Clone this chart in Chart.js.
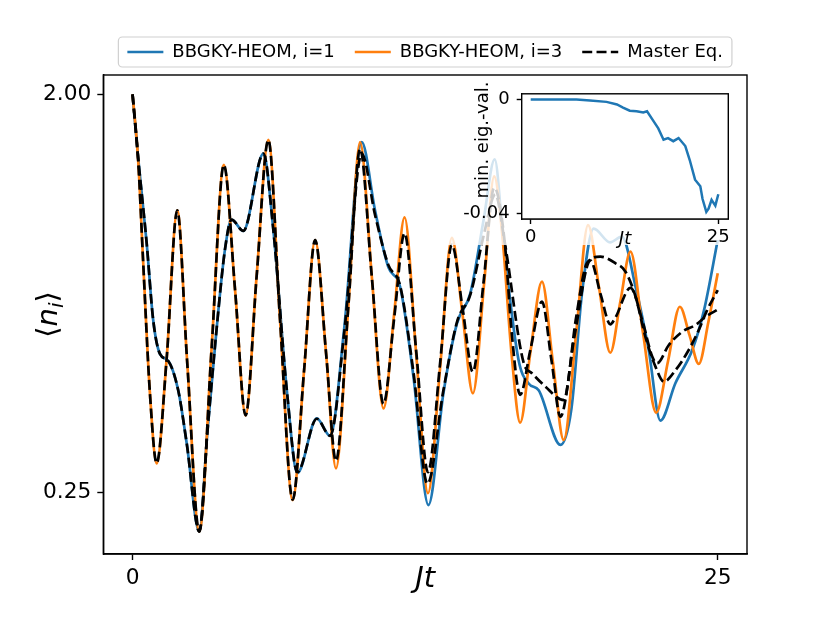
<!DOCTYPE html>
<html lang="en">
<head>
    <meta charset="UTF-8">
    <title>BBGKY-HEOM vs Master Eq.</title>
    <script src="https://cdn.jsdelivr.net/npm/chart.js"></script>
    <style>
        body { margin: 0; background: #fff; }
        #wrap { position: relative; width: 830px; height: 623px; }
        #wrap canvas { display: block; }
        /* inset sits on a half transparent white patch, like the reference */
        #inset { position: absolute; left: 440px; top: 76px; width: 302px; height: 169px; background: rgba(255, 255, 255, 0.8); }
    </style>
</head>
<body>
<div id="wrap">
    <canvas id="mainChart" width="830" height="623"></canvas>
    <div id="inset"><canvas id="insetChart" width="302" height="176"></canvas></div>
</div>

<script>
    // <n_i>, time in units of 1/J
    const tBlue = [0, 0.24, 0.6, 0.88, 1.17, 1.52, 1.95, 2.31, 2.85, 3.2, 3.6, 3.95, 4.23, 4.73, 5.59, 6.0, 6.6, 7.04, 7.87, 8.44,
        9.05, 9.79, 10.36, 10.93, 11.43, 12.0, 12.64, 13.28, 13.86, 14.43, 15.0, 15.47, 15.85, 16.49, 16.92, 17.35, 18.28, 18.75,
        19.2, 19.7, 20.4, 20.9, 21.5, 22.05, 22.55, 23.19, 23.91, 24.41, 25.0];
    const nBlue = [2.0, 1.72, 1.35, 1.01, 0.86, 0.83, 0.70, 0.47, 0.08, 0.52, 0.98, 1.32, 1.45, 1.40, 1.74, 1.42, 0.69, 0.336, 0.577, 0.50,
        0.98, 1.79, 1.49, 1.24, 1.155, 0.76, 0.196, 0.687, 0.994, 1.126, 1.45, 1.714, 1.346, 0.833, 0.73, 0.70, 0.46, 0.62,
        1.126, 1.41, 1.35, 1.375, 1.15, 0.877, 0.567, 0.731, 0.877, 1.05, 1.36];

    const tOrange = [0, 0.24, 0.45, 0.74, 1.03, 1.45, 1.91, 2.33, 2.85, 3.38, 3.9, 4.38, 4.83, 5.3, 5.8, 6.3, 6.84, 7.33, 7.8, 8.27,
        8.69, 9.22, 9.72, 10.22, 10.72, 11.18, 11.62, 12.12, 12.62, 13.14, 13.64, 14.1, 14.54, 15.02, 15.45, 15.78, 16.2, 16.56,
        17.0, 17.49, 17.95, 18.42, 18.95, 19.46, 19.93, 20.41, 20.84, 21.27, 21.81, 22.37, 22.88, 23.38, 23.8, 24.19, 24.6, 25.0];
    const nOrange = [2.0, 1.71, 1.27, 0.69, 0.379, 0.83, 1.49, 0.83, 0.08, 0.89, 1.69, 1.14, 0.59, 1.2, 1.80, 1.01, 0.218, 0.79, 1.36, 0.86,
        0.357, 1.07, 1.79, 1.2, 0.62, 1.04, 1.46, 0.855, 0.248, 0.80, 1.37, 1.03, 0.687, 1.17, 1.64, 1.40, 0.85, 0.558,
        0.87, 1.177, 0.83, 0.482, 0.95, 1.426, 1.15, 0.865, 1.09, 1.309, 0.95, 0.602, 0.83, 1.067, 0.94, 0.816, 1.0, 1.214];

    // master equation, site 1 and site 3
    const tMe1 = [0, 0.24, 0.6, 0.88, 1.17, 1.52, 1.95, 2.31, 2.85, 3.2, 3.6, 3.95, 4.23, 4.73, 5.59, 6.0, 6.6, 7.04, 7.87, 8.44,
        9.05, 9.79, 10.36, 10.93, 11.43, 12.0, 12.6, 13.28, 13.86, 14.43, 15.0, 15.5, 15.9, 16.71, 17.06, 17.6, 18.42, 18.95,
        19.42, 19.99, 20.63, 21.06, 21.49, 21.91, 22.34, 22.70, 23.2, 23.76, 24.19, 24.55, 25.0];
    const nMe1 = [2.0, 1.72, 1.35, 1.01, 0.86, 0.83, 0.70, 0.47, 0.08, 0.52, 0.98, 1.32, 1.45, 1.40, 1.74, 1.42, 0.69, 0.34, 0.575, 0.50,
        0.96, 1.74, 1.47, 1.25, 1.16, 0.78, 0.29, 0.70, 1.0, 1.12, 1.38, 1.56, 1.35, 0.82, 0.775, 0.72, 0.657, 1.02,
        1.26, 1.287, 1.258, 1.221, 1.111, 0.935, 0.804, 0.738, 0.789, 0.877, 0.965, 1.053, 1.14];

    const tMe3 = [0, 0.24, 0.45, 0.74, 1.03, 1.45, 1.91, 2.33, 2.85, 3.38, 3.9, 4.38, 4.83, 5.3, 5.8, 6.3, 6.84, 7.33, 7.8, 8.27,
        8.69, 9.22, 9.72, 10.22, 10.72, 11.18, 11.62, 12.12, 12.62, 13.14, 13.64, 14.1, 14.54, 15.0, 15.45, 15.9, 16.2, 16.56,
        17.0, 17.49, 17.9, 18.28, 18.9, 19.56, 20.0, 20.41, 20.63, 21.27, 21.77, 22.2, 22.41, 22.91, 23.48, 24.05, 24.48, 25.0];
    const nMe3 = [2.0, 1.71, 1.27, 0.69, 0.38, 0.83, 1.49, 0.83, 0.08, 0.89, 1.69, 1.14, 0.59, 1.2, 1.80, 1.01, 0.22, 0.79, 1.36, 0.86,
        0.39, 1.07, 1.76, 1.2, 0.64, 1.02, 1.39, 0.87, 0.34, 0.82, 1.34, 1.06, 0.78, 1.18, 1.59, 1.35, 0.95, 0.68,
        0.88, 1.09, 0.83, 0.584, 0.95, 1.27, 1.12, 0.99, 1.02, 1.15, 1.009, 0.848, 0.819, 0.899, 0.957, 0.987, 1.023, 1.055];

    // inset: minimum eigenvalue
    const tEig = [0, 3, 6.1, 7.9, 10.1, 11.5, 12.3, 13.2, 14.1, 15.0, 15.5, 16.3, 17.0, 17.7, 18.3, 19.0, 19.7, 20.6, 21.2, 21.9,
        22.6, 22.9, 23.4, 23.7, 24.1, 24.6, 25.0];
    const minEig = [0, 0, 0, -0.0003, -0.0008, -0.0017, -0.0028, -0.0039, -0.0041, -0.0045, -0.0041, -0.0073, -0.0101, -0.0141,
        -0.0135, -0.0146, -0.0135, -0.0163, -0.0213, -0.0281, -0.0304, -0.0349, -0.0394, -0.0383, -0.0352, -0.0372, -0.0332];

    const xTicks = [0, 25];
    const yTicks = [0.25, 2.0];
    const insetYTicks = [0, -0.04];

    const FONT = 'DejaVu Sans';
    const pts = (ts, vs) => ts.map((t, i) => ({ x: t, y: vs[i] }));

    Chart.defaults.color = '#000';
    Chart.defaults.font.family = FONT;

    const axisGrid = { drawOnChartArea: false, drawTicks: true, tickLength: 6, tickColor: '#000', tickWidth: 1.4 };
    const axisBorder = { display: true, color: '#000', width: 1.4 };

    function lineSet(label, data, color, order, dash) {
        return {
            label: label, data: data, borderColor: color, backgroundColor: color,
            borderWidth: 2.7, borderDash: dash || [], pointRadius: 0,
            cubicInterpolationMode: 'monotone', order: order
        };
    }

    // spines, legend frame, axis labels with math-like styling
    const mainDecor = {
        id: 'mainDecor',
        afterDatasetsDraw(chart) {
            const { ctx, chartArea: a } = chart;
            ctx.save();
            ctx.strokeStyle = '#000';
            ctx.lineWidth = 1.4;
            ctx.strokeRect(a.left, a.top, a.right - a.left, a.bottom - a.top);
            ctx.restore();
        },
        afterDraw(chart) {
            const { ctx, chartArea: a, legend } = chart;
            const boxes = legend.legendHitBoxes || [];
            ctx.save();
            if (boxes.length) {
                const l = Math.min(...boxes.map(b => b.left)) - 9;
                const r = Math.max(...boxes.map(b => b.left + b.width)) + 9;
                const cy = boxes[0].top + boxes[0].height / 2;
                ctx.strokeStyle = '#d0d0d0';
                ctx.lineWidth = 1.2;
                ctx.beginPath();
                if (ctx.roundRect) ctx.roundRect(l, cy - 15, r - l, 30, 4);
                else ctx.rect(l, cy - 15, r - l, 30);
                ctx.stroke();
            }

            ctx.fillStyle = '#000';
            ctx.textBaseline = 'alphabetic';
            ctx.textAlign = 'center';
            ctx.font = 'italic 29px "' + FONT + '"';
            ctx.fillText('Jt', (a.left + a.right) / 2, 587);

            // <n_i> rotated
            ctx.translate(57, (a.top + a.bottom) / 2);
            ctx.rotate(-Math.PI / 2);
            ctx.textAlign = 'left';
            const parts = [
                { s: '\u27E8', f: '29px "' + FONT + '"', dy: 0 },
                { s: 'n', f: 'italic 29px "' + FONT + '"', dy: 0 },
                { s: 'i', f: 'italic 20px "' + FONT + '"', dy: 6 },
                { s: '\u27E9', f: '29px "' + FONT + '"', dy: 0 }
            ];
            let total = 0;
            parts.forEach(p => { ctx.font = p.f; p.w = ctx.measureText(p.s).width; total += p.w; });
            let x = -total / 2;
            parts.forEach(p => { ctx.font = p.f; ctx.fillText(p.s, x, p.dy); x += p.w; });
            ctx.restore();
        }
    };

    new Chart(document.getElementById('mainChart'), {
        type: 'line',
        data: {
            datasets: [
                lineSet('BBGKY-HEOM, i=1', pts(tBlue, nBlue), '#1f77b4', 4),
                lineSet('BBGKY-HEOM, i=3', pts(tOrange, nOrange), '#ff7f0e', 3),
                lineSet('Master Eq.', pts(tMe1, nMe1), '#000000', 2, [10, 4.3]),
                lineSet('Master Eq. i=3', pts(tMe3, nMe3), '#000000', 1, [10, 4.3])
            ]
        },
        options: {
            responsive: false,
            animation: false,
            events: [],
            layout: { padding: { top: 23, right: 83, bottom: 0, left: 0 } },
            plugins: {
                tooltip: { enabled: false },
                legend: {
                    position: 'top',
                    fullSize: false,
                    labels: {
                        usePointStyle: true,
                        pointStyle: 'line',
                        pointStyleWidth: 36,
                        boxHeight: 18,
                        padding: 20,
                        color: '#000',
                        font: { family: FONT, size: 18 },
                        generateLabels: chart => Chart.defaults.plugins.legend.labels.generateLabels(chart).map(item => {
                            const ds = chart.data.datasets[item.datasetIndex];
                            item.lineDash = ds.borderDash;
                            item.lineWidth = ds.borderWidth;
                            item.strokeStyle = ds.borderColor;
                            return item;
                        }),
                        filter: item => item.datasetIndex !== 3,
                        sort: (a, b) => a.datasetIndex - b.datasetIndex
                    }
                }
            },
            scales: {
                x: {
                    type: 'linear', min: -1.25, max: 26.25,
                    afterBuildTicks: s => { s.ticks = xTicks.map(v => ({ value: v })); },
                    afterFit: s => { s.height = 69; },
                    ticks: { font: { family: FONT, size: 21.7 }, color: '#000', padding: 5, maxRotation: 0 },
                    grid: axisGrid,
                    border: axisBorder
                },
                // empty top axis only keeps a small gap under the legend
                x2: {
                    type: 'linear', position: 'top', min: -1.25, max: 26.25,
                    ticks: { display: false }, grid: { display: false }, border: { display: false },
                    afterFit: s => { s.height = 4; }
                },
                y: {
                    type: 'linear', min: -0.019, max: 2.085,
                    afterBuildTicks: s => { s.ticks = yTicks.map(v => ({ value: v })); },
                    afterFit: s => { s.width = 103.3; },
                    ticks: { font: { family: FONT, size: 21.7 }, color: '#000', padding: 6, callback: v => v.toFixed(2) },
                    grid: axisGrid,
                    border: axisBorder
                }
            }
        },
        plugins: [mainDecor]
    });

    const insetDecor = {
        id: 'insetDecor',
        beforeDatasetsDraw(chart) {
            const { ctx, chartArea: a } = chart;
            ctx.save();
            ctx.fillStyle = '#fff';
            ctx.fillRect(a.left, a.top, a.right - a.left, a.bottom - a.top);
            ctx.restore();
        },
        afterDatasetsDraw(chart) {
            const { ctx, chartArea: a } = chart;
            ctx.save();
            ctx.strokeStyle = '#000';
            ctx.lineWidth = 1.4;
            ctx.strokeRect(a.left, a.top, a.right - a.left, a.bottom - a.top);
            ctx.restore();
        },
        afterDraw(chart) {
            const { ctx, chartArea: a } = chart;
            ctx.save();
            ctx.fillStyle = '#000';
            ctx.textBaseline = 'alphabetic';
            ctx.textAlign = 'center';
            ctx.font = 'italic 18px "' + FONT + '"';
            ctx.fillText('Jt', (a.left + a.right) / 2, 168);
            ctx.translate(48, 64);
            ctx.rotate(-Math.PI / 2);
            ctx.font = '18px "' + FONT + '"';
            ctx.fillText('min. eig.-val.', 0, 0);
            ctx.restore();
        }
    };

    const insetGrid = { drawOnChartArea: false, drawTicks: true, tickLength: 5, tickColor: '#000', tickWidth: 1.4 };

    new Chart(document.getElementById('insetChart'), {
        type: 'line',
        data: {
            datasets: [{
                data: pts(tEig, minEig), borderColor: '#1f77b4', borderWidth: 2.5,
                pointRadius: 0, tension: 0
            }]
        },
        options: {
            responsive: false,
            animation: false,
            events: [],
            layout: { padding: { top: 13, right: 13.7, bottom: 0, left: 0 } },
            plugins: { legend: { display: false }, tooltip: { enabled: false } },
            scales: {
                x: {
                    type: 'linear', min: -1.2, max: 26.33,
                    afterBuildTicks: s => { s.ticks = xTicks.map(v => ({ value: v })); },
                    afterFit: s => { s.height = 33; },
                    ticks: { font: { family: FONT, size: 18 }, color: '#000', padding: 3, maxRotation: 0 },
                    grid: insetGrid,
                    border: axisBorder
                },
                y: {
                    type: 'linear', min: -0.0419, max: 0.00203,
                    afterBuildTicks: s => { s.ticks = insetYTicks.map(v => ({ value: v })); },
                    afterFit: s => { s.width = 81.7; },
                    ticks: { font: { family: FONT, size: 18 }, color: '#000', padding: 7, callback: v => v === 0 ? '0' : v.toFixed(2) },
                    grid: insetGrid,
                    border: axisBorder
                }
            }
        },
        plugins: [insetDecor]
    });
</script>
</body>
</html>
